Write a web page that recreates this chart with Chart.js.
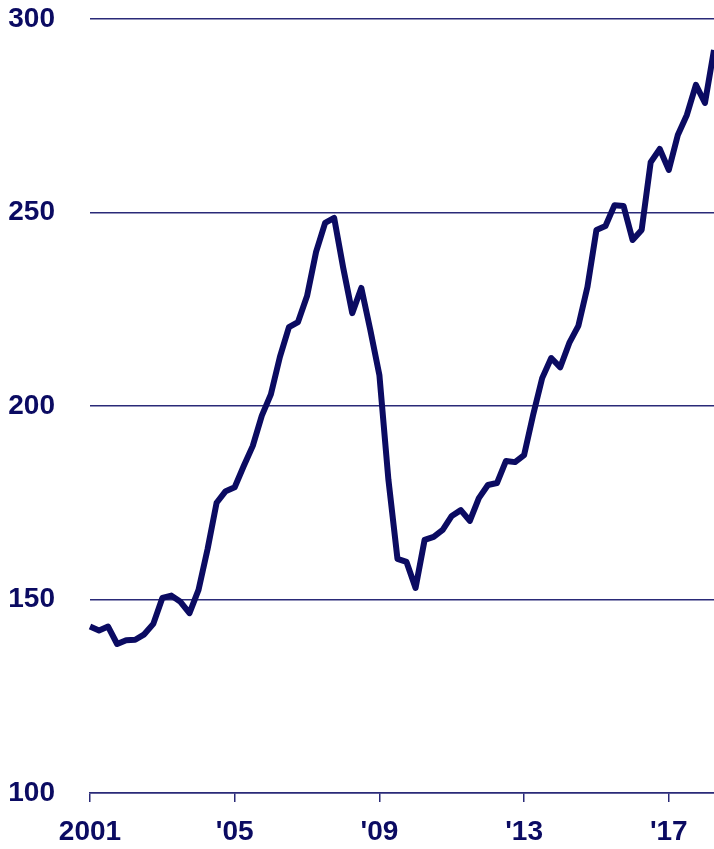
<!DOCTYPE html>
<html>
<head>
<meta charset="utf-8">
<script src="https://cdn.jsdelivr.net/npm/chart.js@4/dist/chart.umd.min.js"></script>
<style>
  html, body { margin: 0; padding: 0; background: #fff; }
  #wrap { width: 714px; height: 849px; position: relative; }
</style>
</head>
<body>
<div id="wrap"><canvas id="chart"></canvas></div>
<script>
// Quarterly index, 2001 Q1 – 2018 Q2
const quarters = [];
for (let y = 2001; y <= 2018; y++) {
  for (let q = 1; q <= 4; q++) {
    if (y === 2018 && q > 2) break;
    quarters.push(y + ' Q' + q);
  }
}
const tickIndex = [0, 16, 32, 48, 64];
const tickLabels = ['2001', "'05", "'09", "'13", "'17"];
const yTicks = [100, 150, 200, 250, 300];

const values = [
  143, 142, 143, 138.5, 139.5, 139.6, 141, 143.7, 150.4, 151,
  149.4, 146.5, 152.5, 163, 175, 178, 179, 184.5, 189.7, 197.5,
  203, 212.7, 220.4, 221.7, 228.4, 239.8, 247.3, 248.6, 235.7, 224,
  230.5, 219.6, 208, 180.9, 160.5, 159.7, 153, 165.4, 166.2, 168,
  171.6, 173.1, 170.3, 176.2, 179.6, 180.1, 185.8, 185.5, 187.3, 197.7,
  207.2, 212.4, 210, 216.3, 220.7, 230.7, 245.5, 246.5, 251.9, 251.7,
  242.9, 245.5, 263, 266.4, 261, 270, 275.2, 283, 278.3, 292
];

const navy = '#0b0b62';
const family = '"Liberation Sans", Arial, sans-serif';
const font = { family: family, size: 28, weight: 'bold' };

new Chart(document.getElementById('chart'), {
  type: 'line',
  data: {
    labels: quarters,
    datasets: [{
      data: values,
      borderColor: navy,
      borderWidth: 6,
      borderJoinStyle: 'round',
      pointRadius: 0,
      tension: 0,
      fill: false,
      clip: false
    }]
  },
  options: {
    responsive: true,
    maintainAspectRatio: false,
    animation: false,
    layout: { padding: { top: 19, right: 0, bottom: 0, left: 0 } },
    plugins: { legend: { display: false }, tooltip: { enabled: false } },
    scales: {
      x: {
        type: 'category',
        offset: false,
        afterBuildTicks: s => { s.ticks = s.ticks.filter(t => tickIndex.includes(t.value)); },
        afterFit: s => { s.height = 56; s.paddingTop = 0; s.paddingBottom = 0; },
        ticks: {
          autoSkip: false,
          maxRotation: 0,
          color: navy,
          font: font,
          padding: 13,
          callback: v => tickLabels[tickIndex.indexOf(v)]
        },
        grid: { drawOnChartArea: false, drawTicks: true, tickLength: 9, color: '#2a2a78', lineWidth: 1.5 },
        border: { display: true, color: '#2a2a78', width: 1.5 }
      },
      y: {
        min: 100,
        max: 300,
        afterBuildTicks: s => { s.ticks = yTicks.map(v => ({ value: v })); },
        afterFit: s => { s.width = 90; s.paddingTop = 0; s.paddingBottom = 0; },
        ticks: { color: navy, font: font, padding: 35 },
        grid: { drawTicks: false, color: '#2a2a78', lineWidth: 1.5 },
        border: { display: false }
      }
    }
  }
});
</script>
</body>
</html>
